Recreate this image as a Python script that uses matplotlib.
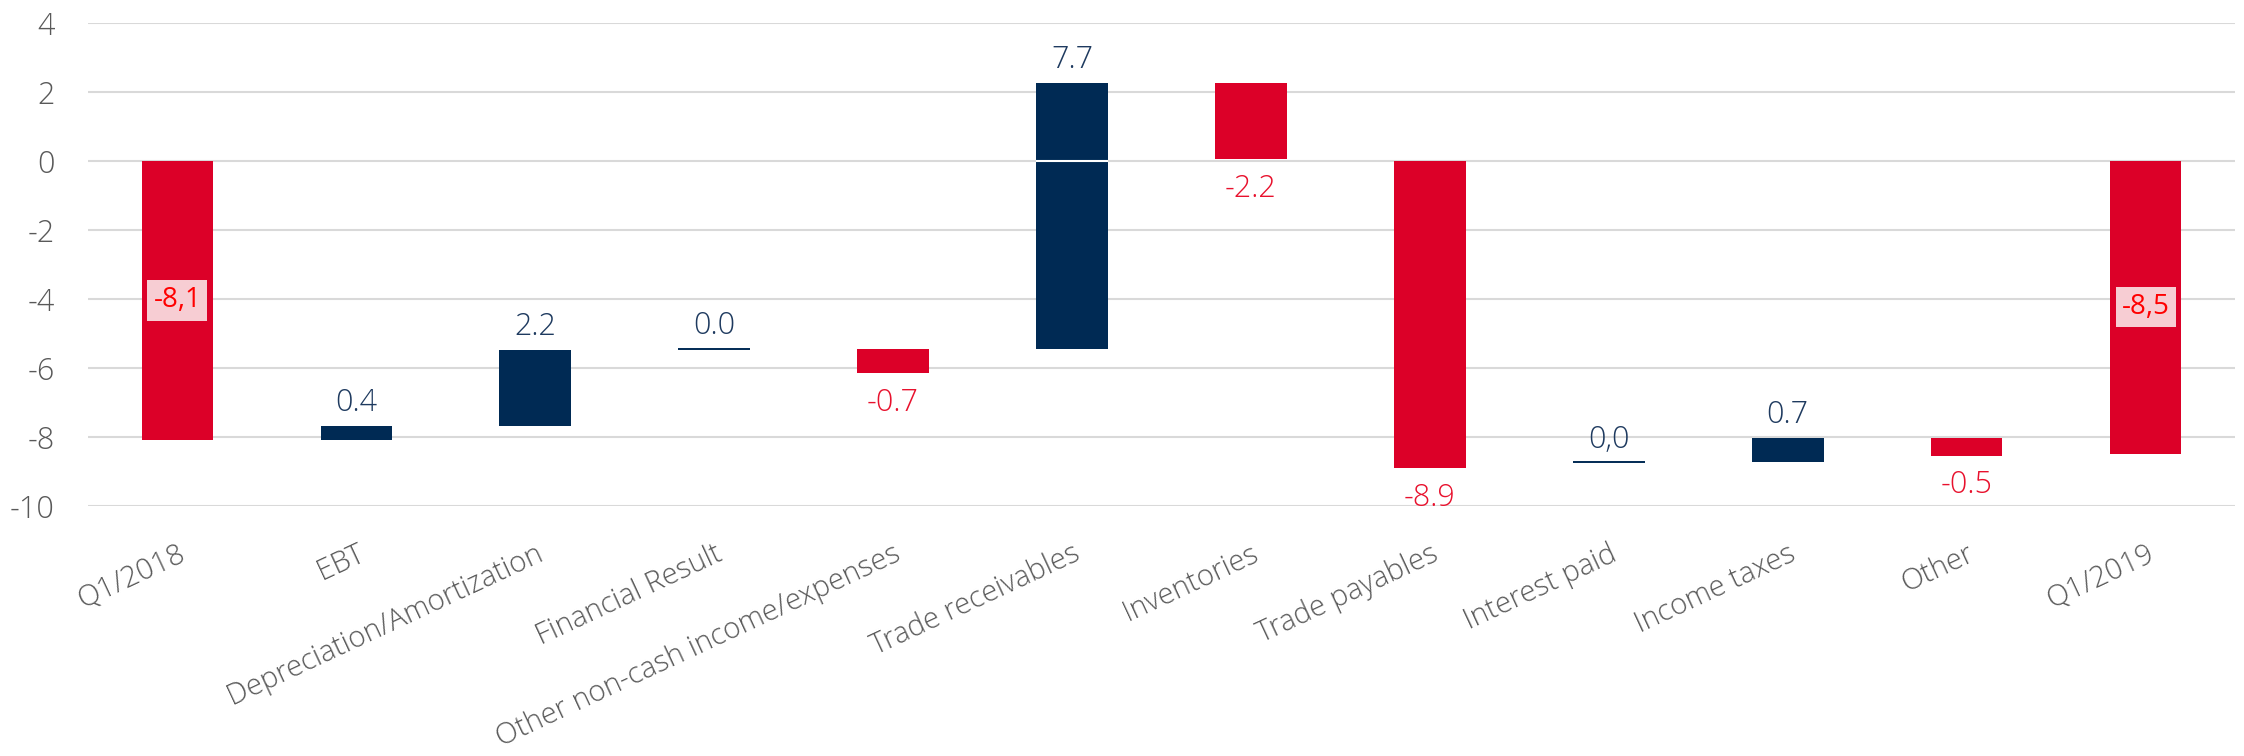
import matplotlib
matplotlib.use("Agg")
import matplotlib.pyplot as plt
import numpy as np

plt.rcParams["font.family"] = ["Open Sans", "DejaVu Sans"]
plt.rcParams["font.weight"] = "light"
plt.rcParams["axes.unicode_minus"] = False

# waterfall data (start level + change per bar)
categories = [
    "Q1/2018", "EBT", "Depreciation/Amortization", "Financial Result",
    "Other non-cash income/expenses", "Trade receivables", "Inventories",
    "Trade payables", "Interest paid", "Income taxes", "Other", "Q1/2019",
]
bar_start = [0.0, -8.1, -7.7, -5.45, -5.45, -5.45, 2.25, 0.0, -8.75, -8.75, -8.05, 0.0]
bar_delta = [-8.1, 0.4, 2.2, 0.0, -0.7, 7.7, -2.2, -8.9, 0.0, 0.7, -0.5, -8.5]
value_labels = ["-8,1", "0.4", "2.2", "0.0", "-0.7", "7.7", "-2.2", "-8.9", "0,0", "0.7", "-0.5", "-8,5"]
is_total = [True] + [False] * 10 + [True]
y_ticks = [4, 2, 0, -2, -4, -6, -8, -10]

NAVY = "#002A54"
RED = "#DC0028"
NAVY_TXT = "#1E3A5F"
RED_TXT = "#E8112D"
GRID = "#D9D9D9"
TICK_TXT = "#595959"
FS = 22

fig = plt.figure(figsize=(22.44, 7.56), dpi=100)
ax = fig.add_axes([0.0392, 0.3313, 0.9568, 0.6384])

x = np.arange(len(categories))
width = 0.40
start = np.array(bar_start)
delta = np.array(bar_delta)
end = start + delta

for i in range(len(categories)):
    color = RED if delta[i] < 0 else NAVY
    if delta[i] == 0:
        ax.hlines(start[i], x[i] - width / 2, x[i] + width / 2, color=NAVY, lw=1.4, zorder=3)
    else:
        ax.bar(x[i], delta[i], bottom=start[i], width=width, color=color, zorder=3)
        # thin white seam where a bar crosses the zero line
        if min(start[i], end[i]) < 0 < max(start[i], end[i]):
            ax.hlines(0, x[i] - width / 2, x[i] + width / 2, color="white", lw=1.5, zorder=4)

    if is_total[i]:
        ax.text(x[i], (start[i] + end[i]) / 2, value_labels[i], ha="center", va="center",
                fontsize=20, fontweight="normal", color="#FF0000", zorder=5,
                bbox=dict(boxstyle="square,pad=0.22", fc="#F7CDD3", ec="none"))
    elif delta[i] >= 0:
        ax.annotate(value_labels[i], (x[i], max(start[i], end[i])), xytext=(0, 5),
                    textcoords="offset points", ha="center", va="bottom",
                    fontsize=FS, color=NAVY_TXT)
    else:
        ax.annotate(value_labels[i], (x[i], min(start[i], end[i])), xytext=(0, -10),
                    textcoords="offset points", ha="center", va="top",
                    fontsize=FS, color=RED_TXT)

ax.set_xlim(-0.5, len(categories) - 0.5)
ax.set_ylim(-10, 4)
ax.set_yticks(y_ticks)
ax.set_yticklabels([str(t) for t in y_ticks])
ax.yaxis.grid(True, color=GRID, lw=1.5, zorder=0)
ax.set_axisbelow(True)
for s in ax.spines.values():
    s.set_visible(False)
ax.tick_params(axis="y", length=0, pad=24, labelsize=FS, labelcolor=TICK_TXT)
ax.tick_params(axis="x", length=0, pad=24, labelsize=21, labelcolor=TICK_TXT)
ax.set_xticks(x)
ax.set_xticklabels(categories, rotation=25, ha="right", va="top", rotation_mode="anchor")

fig.savefig("out.png", dpi=100)
